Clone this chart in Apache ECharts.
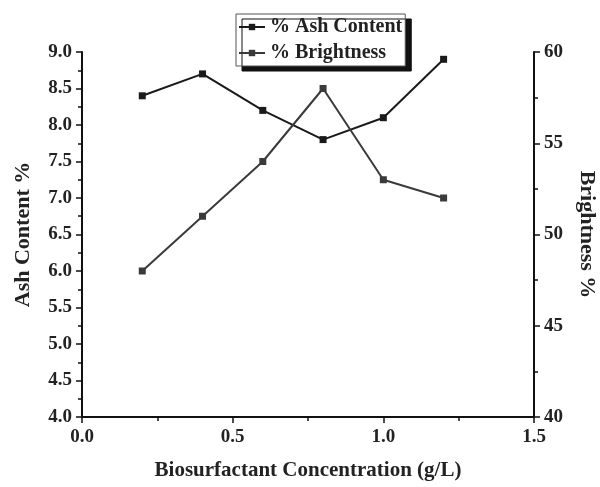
<!DOCTYPE html>
<html>
<head>
<meta charset="utf-8">
<script src="https://cdn.jsdelivr.net/npm/echarts@6/dist/echarts.min.js"></script>
<style>html,body{margin:0;padding:0;background:#fff;}#c{width:600px;height:487px;}</style>
</head>
<body>
<div id="c"></div>
<script>
const concentration = [0.2, 0.4, 0.6, 0.8, 1.0, 1.2];
const ashContent = [8.4, 8.7, 8.2, 7.8, 8.1, 8.9];
const brightness = [48, 51, 54, 58, 53, 52];
const seriesNames = ['% Ash Content', '% Brightness'];
const xTitle = 'Biosurfactant Concentration (g/L)';
const yLeftTitle = 'Ash Content %';
const yRightTitle = 'Brightness %';

const FONT = '"Liberation Serif", "Times New Roman", serif';
const axisCommon = {
  axisLine: {show: true, lineStyle: {color: '#111', width: 2}},
  axisTick: {show: true, inside: false, length: 6, lineStyle: {color: '#111', width: 1.5}},
  minorTick: {show: true, splitNumber: 2, length: 4, lineStyle: {color: '#111', width: 1.5}},
  splitLine: {show: false},
  axisLabel: {fontFamily: FONT, fontWeight: 'bold', fontSize: 19, color: '#222'},
  nameTextStyle: {fontFamily: FONT, fontWeight: 'bold', fontSize: 22, color: '#222'}
};

const chart = echarts.init(document.getElementById('c'), null, {renderer: 'canvas'});
chart.setOption({
  animation: false,
  backgroundColor: '#fff',
  grid: {left: 82, right: 66, top: 52, bottom: 70, containLabel: false, outerBoundsMode: 'none'},
  legend: {
    orient: 'vertical',
    left: 236, top: 14,
    data: seriesNames,
    backgroundColor: '#fff',
    borderColor: '#555', borderWidth: 1,
    shadowColor: '#111', shadowBlur: 0, shadowOffsetX: 6, shadowOffsetY: 5,
    padding: [3, 3, 3, 2],
    itemGap: 6, itemWidth: 26, itemHeight: 8,
    textStyle: {fontFamily: FONT, fontWeight: 'bold', fontSize: 20, color: '#222'}
  },
  xAxis: Object.assign({}, axisCommon, {
    type: 'value', min: 0, max: 1.5, interval: 0.5,
    name: xTitle, nameLocation: 'middle', nameGap: 43,
    nameTextStyle: Object.assign({}, axisCommon.nameTextStyle, {fontSize: 21}),
    axisLabel: Object.assign({}, axisCommon.axisLabel, {margin: 11, formatter: v => v.toFixed(1)})
  }),
  yAxis: [
    Object.assign({}, axisCommon, {
      type: 'value', min: 4, max: 9, interval: 0.5, position: 'left',
      name: yLeftTitle, nameLocation: 'middle', nameGap: 48, nameRotate: 90,
      axisLabel: Object.assign({}, axisCommon.axisLabel, {margin: 10, formatter: v => v.toFixed(1)})
    }),
    Object.assign({}, axisCommon, {
      type: 'value', min: 40, max: 60, interval: 5, position: 'right',
      name: yRightTitle, nameLocation: 'middle', nameGap: 42, nameRotate: -90,
      axisLabel: Object.assign({}, axisCommon.axisLabel, {margin: 10})
    })
  ],
  series: [
    {
      name: seriesNames[0], type: 'line', yAxisIndex: 0,
      data: concentration.map((x, i) => [x, ashContent[i]]),
      symbol: 'rect', symbolSize: 7,
      lineStyle: {color: '#1a1a1a', width: 2},
      itemStyle: {color: '#1a1a1a'}
    },
    {
      name: seriesNames[1], type: 'line', yAxisIndex: 1,
      data: concentration.map((x, i) => [x, brightness[i]]),
      symbol: 'rect', symbolSize: 7,
      lineStyle: {color: '#3a3a3a', width: 2},
      itemStyle: {color: '#3a3a3a'}
    }
  ]
});
</script>
</body>
</html>
